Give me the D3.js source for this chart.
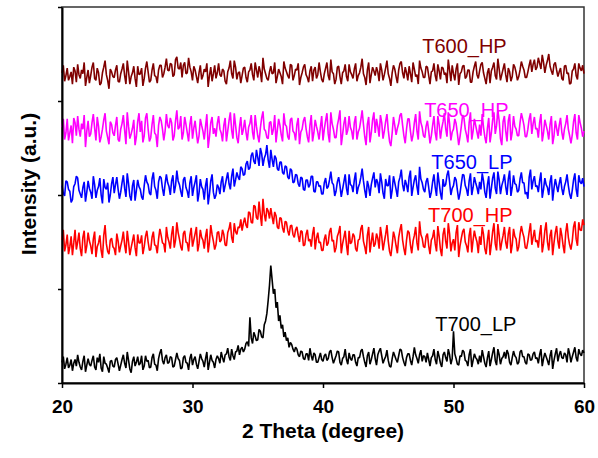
<!DOCTYPE html>
<html>
<head>
<meta charset="utf-8">
<script src="https://cdn.jsdelivr.net/npm/d3@7"></script>
<style>
  body { margin: 0; background: #fff; }
  svg { display: block; font-family: "Liberation Sans", Arial, sans-serif; }
</style>
</head>
<body>
<svg id="xrd" width="598" height="458"></svg>
<script>
// 2 theta grid: 20 to 60 degrees, 0.1 degree step (one row = 2 degrees)
const thetaStart = 20, thetaStep = 0.1;

// intensities (a.u.), stacked as plotted
const t600HP = [
  330,338,321,327,335,322,326,331,318,336,332,320,339,328,324,333,329,341,316,325,
  333,319,327,336,341,324,322,335,330,317,319,330,336,343,328,322,313,334,331,326,
  325,333,338,321,320,329,334,340,327,318,343,331,318,326,330,337,324,315,337,328,
  329,335,316,324,335,342,331,320,322,333,340,327,326,319,333,338,338,325,329,336,
  345,333,332,340,339,326,328,344,347,335,334,341,325,338,341,329,330,346,336,331,
  322,337,333,326,319,330,338,323,327,334,331,340,315,327,336,321,329,338,324,330,
  340,328,326,334,332,321,318,331,335,343,329,324,343,336,323,330,331,319,327,335,
  336,325,320,331,333,340,328,322,341,333,325,337,331,320,346,334,329,324,322,331,
  337,329,330,341,319,326,334,330,326,318,342,335,331,327,324,339,338,322,327,334,
  333,340,317,325,330,336,339,328,325,320,332,337,321,333,336,324,328,341,331,323,
  320,329,335,341,327,322,344,331,329,318,323,336,337,326,318,330,332,339,326,321,
  339,331,328,324,334,340,321,327,330,336,345,329,325,317,333,341,319,328,336,332,
  327,336,331,321,340,333,322,328,335,343,329,324,316,330,338,334,326,319,333,340,
  342,330,324,336,330,322,337,329,320,341,334,326,328,318,343,335,331,325,325,337,
  336,327,318,331,332,340,327,321,339,332,323,336,335,328,330,319,344,333,321,338,
  329,322,334,340,317,329,331,337,338,324,326,333,333,320,320,331,337,342,328,324,
  332,339,341,330,324,318,330,335,319,332,336,341,327,323,345,334,322,328,334,340,
  328,320,335,331,321,326,339,336,330,322,326,333,342,337,333,325,325,331,338,344,
  331,339,344,333,336,346,340,334,349,341,330,338,343,350,337,332,328,339,341,333,
  326,331,335,324,322,337,338,329,330,318,319,332,334,340,327,323,340,335,332,338,
  329
];
const t650HP = [
  272,281,259,266,281,258,266,274,255,282,277,263,284,270,262,276,270,285,251,268,
  279,262,265,277,286,271,258,283,273,256,262,270,280,287,268,261,254,278,275,266,
  263,274,283,259,257,270,276,285,269,254,288,273,260,265,271,280,253,262,278,287,
  267,279,256,263,282,287,270,257,261,275,285,266,264,251,274,283,279,270,258,268,
  286,274,271,282,277,258,263,279,290,270,272,284,259,266,283,275,266,257,275,284,
  260,271,279,266,255,263,281,274,268,259,273,286,250,262,277,283,265,271,262,276,
  284,270,266,257,274,282,257,268,279,288,269,260,287,274,261,255,272,283,264,270,
  280,267,258,272,276,285,267,259,285,273,263,256,271,282,289,270,268,261,260,277,
  278,264,270,285,256,269,281,274,264,257,287,275,273,262,259,280,282,268,266,258,
  275,282,254,267,270,279,283,271,262,256,274,285,257,266,280,273,267,259,272,284,
  258,270,279,287,265,256,288,276,270,261,261,274,281,290,253,264,276,283,264,269,
  284,272,268,259,277,284,259,267,271,280,290,275,262,253,275,283,256,266,280,288,
  266,281,273,262,285,277,260,268,278,286,269,257,252,266,283,274,264,271,276,285,
  287,274,263,255,270,281,281,268,257,264,277,286,268,259,289,277,272,263,261,273,
  279,268,255,263,274,284,266,258,284,275,260,271,278,287,271,262,288,276,258,267,
  270,281,276,265,253,262,273,285,282,270,264,256,277,288,259,268,281,274,267,260,
  275,263,286,272,262,255,271,282,256,266,280,288,265,274,290,279,260,253,278,284,
  268,257,279,286,258,267,284,273,270,263,263,277,287,281,274,262,262,270,281,287,
  265,276,283,270,271,261,277,286,257,266,280,274,268,259,275,284,254,263,279,271,
  263,274,282,267,259,270,276,285,270,263,255,264,278,286,266,259,285,277,271,262,
  268
];
const t650LP = [
  210,202,199,215,214,206,204,192,195,209,212,220,218,205,201,197,208,214,193,203,
  215,207,203,196,220,211,197,205,209,218,200,191,217,208,206,213,192,200,212,219,
  202,211,219,206,196,203,213,221,207,198,223,212,199,194,210,216,194,205,216,209,
  206,198,195,210,221,214,211,202,200,217,224,209,205,196,214,220,218,207,199,212,
  222,213,209,200,215,221,202,210,226,215,211,204,198,216,219,208,204,197,213,220,
  199,208,214,221,193,202,217,209,206,195,210,218,190,201,215,222,203,196,200,211,
  208,201,214,220,203,210,217,224,212,206,220,228,209,216,224,219,216,230,228,221,
  222,233,236,227,229,242,245,236,233,248,240,231,250,244,231,239,243,253,237,229,
  248,238,230,242,239,228,226,235,235,224,222,231,230,219,217,228,226,213,214,222,
  221,212,209,219,218,206,205,216,216,208,211,220,220,204,203,214,214,209,210,201,
  201,213,218,207,209,216,225,213,211,199,204,214,219,210,198,206,214,222,207,200,
  222,211,210,203,216,224,201,208,212,219,228,215,205,197,215,209,199,211,218,224,
  208,217,213,202,223,214,202,196,217,210,210,221,196,205,220,213,206,198,214,219,
  227,211,204,216,211,203,219,226,199,208,216,221,209,200,230,217,213,206,203,214,
  218,208,197,203,214,222,208,199,224,213,202,195,217,209,211,221,226,214,200,207,
  210,219,216,205,195,202,212,222,221,210,206,199,215,223,200,208,219,213,208,201,
  214,206,223,215,203,197,211,220,196,207,218,224,207,201,225,216,201,210,215,222,
  209,200,217,226,199,208,221,212,211,203,205,217,224,213,213,201,203,196,219,227,
  206,215,220,209,210,203,215,224,197,206,218,211,208,200,214,221,194,207,217,210,
  203,212,219,207,200,209,214,222,210,201,196,205,216,223,206,198,221,214,212,218,
  209
];
const t700HP = [
  152,163,140,147,158,137,145,156,136,149,163,142,150,160,143,135,155,162,138,146,
  160,151,146,137,153,161,134,145,149,157,141,133,157,168,148,140,137,152,154,145,
  143,136,159,151,139,146,152,161,147,138,162,150,136,144,151,158,144,135,158,149,
  149,157,137,145,156,162,150,141,142,155,161,147,146,138,153,164,157,149,148,139,
  166,155,150,143,158,167,144,152,171,160,153,145,141,159,162,150,149,140,157,165,
  145,152,159,166,140,148,163,155,152,143,156,164,139,150,168,158,151,142,147,160,
  161,150,152,163,158,147,146,160,164,171,155,149,170,161,158,166,165,174,162,170,
  176,168,165,182,181,171,170,189,188,176,174,193,179,167,196,180,172,186,183,175,
  186,177,169,182,178,166,164,176,175,165,160,172,171,162,157,167,168,158,155,163,
  166,157,150,162,161,146,147,158,163,151,153,145,158,166,142,154,160,149,150,141,
  141,153,158,146,149,161,165,151,152,139,144,156,160,167,138,148,155,162,147,136,
  162,148,150,159,156,143,140,152,153,164,168,151,145,137,157,166,139,150,160,145,
  148,159,154,143,166,156,141,150,158,168,151,140,135,147,161,155,146,138,155,163,
  169,152,143,136,152,162,160,147,138,151,157,166,149,141,172,158,154,145,144,156,
  159,146,137,152,155,163,148,140,167,156,142,135,158,165,151,143,170,159,140,149,
  153,141,160,168,134,146,154,161,164,150,146,139,157,165,139,152,162,155,150,138,
  156,147,166,158,143,137,152,163,136,148,161,170,148,141,169,157,141,150,157,166,
  150,143,159,166,138,147,164,156,153,140,145,158,167,160,155,144,143,151,161,170,
  147,155,163,150,152,144,158,168,139,148,162,171,150,141,157,163,136,149,160,167,
  151,143,165,157,146,138,160,170,155,147,142,151,166,172,153,146,171,163,162,174,
  168
];
const t700LP = [
  22,28,15,20,27,16,19,25,13,21,25,18,30,22,17,14,23,29,12,19,
  26,20,18,24,29,17,14,27,22,31,16,12,28,21,20,16,11,23,24,18,
  17,25,27,20,13,19,25,30,21,16,33,24,15,11,23,28,18,22,28,19,
  21,29,14,18,29,23,24,16,17,27,31,20,19,13,26,32,36,24,20,27,
  30,21,22,28,27,17,18,25,32,26,24,15,16,27,29,22,21,14,26,31,
  19,25,28,20,15,23,31,26,23,17,26,33,14,22,30,24,22,16,25,29,
  26,21,33,27,22,30,31,37,28,24,36,29,25,33,34,40,30,36,38,33,
  36,42,44,39,70,48,42,54,50,45,46,57,55,49,48,62,66,74,88,104,
  125,110,95,100,80,86,66,72,58,62,49,54,45,48,38,43,41,36,33,38,
  36,30,28,34,33,26,25,31,31,24,37,29,24,32,30,22,22,27,32,25,
  23,29,31,24,26,33,35,27,21,25,29,34,33,22,19,26,28,36,25,20,
  32,26,24,30,30,22,18,27,27,34,36,28,22,17,29,33,20,25,31,37,
  26,19,30,34,37,29,21,25,28,35,24,18,17,26,33,29,25,22,29,36,
  35,27,22,18,27,31,31,24,19,28,38,30,26,21,30,35,23,29,28,22,
  32,25,18,27,29,36,25,20,34,28,21,17,30,33,27,23,36,30,20,26,
  55,31,26,20,19,29,28,35,33,24,23,18,30,36,17,24,31,27,25,20,
  29,22,35,28,21,17,27,34,18,25,32,38,24,19,36,30,20,26,28,33,
  26,35,31,22,19,27,34,29,27,20,22,33,35,28,28,22,20,31,30,24,
  25,31,33,26,27,21,30,36,18,26,32,28,24,19,29,35,15,24,31,37,
  23,30,34,27,26,32,30,22,37,31,22,28,33,38,27,23,36,31,29,35,
  32
];

const seriesNames = ["T700_LP", "T700_HP", "T650_LP", "T650_HP", "T600_HP"];
const seriesValues = [t700LP, t700HP, t650LP, t650HP, t600HP];
const seriesColors = ["#000000", "#ff0000", "#0000ff", "#ff00ff", "#800000"];
// label anchor in data units (degree, a.u.)
const labelTheta = [48.6, 48.05, 48.3, 47.75, 47.6];
const labelValue = [55, 171, 228, 283, 351];

const xTicks = [20, 30, 40, 50, 60];
const yTicks = [0, 100, 200, 300, 400];

const svg = d3.select("#xrd");
const margin = { top: 7, right: 14, bottom: 75, left: 62 };
const width = 598 - margin.left - margin.right;
const height = 458 - margin.top - margin.bottom;

const g = svg.append("g")
  .attr("transform", `translate(${margin.left},${margin.top})`);

const x = d3.scaleLinear().domain([20, 60]).range([0, width]);
const y = d3.scaleLinear().domain([0, 400]).range([height, 0]);

// frame
g.append("rect")
  .attr("width", width)
  .attr("height", height)
  .attr("fill", "none")
  .attr("stroke", "#333")
  .attr("stroke-width", 1.5);

const line = d3.line()
  .x((d, i) => x(thetaStart + i * thetaStep))
  .y(d => y(d));

seriesValues.forEach((vals, k) => {
  g.append("path")
    .datum(vals)
    .attr("d", line)
    .attr("fill", "none")
    .attr("stroke", seriesColors[k])
    .attr("stroke-width", 1.6)
    .attr("stroke-linejoin", "bevel");

  g.append("text")
    .attr("x", x(labelTheta[k]))
    .attr("y", y(labelValue[k]))
    .attr("fill", seriesColors[k])
    .attr("font-size", "20px")
    .text(seriesNames[k]);
});

// axes
const xAxis = g.append("g")
  .attr("transform", `translate(0,${height})`)
  .call(d3.axisBottom(x).tickValues(xTicks).tickSize(5).tickPadding(12).tickSizeOuter(0));
xAxis.selectAll("text")
  .attr("font-size", "19px")
  .attr("font-weight", "bold")
  .attr("font-family", "Liberation Sans, Arial, sans-serif")
  .attr("fill", "#000");

const yAxis = g.append("g")
  .call(d3.axisLeft(y).tickValues(yTicks).tickSize(4).tickFormat("").tickSizeOuter(0));

[xAxis, yAxis].forEach(a => {
  a.select(".domain").attr("stroke", "#000").attr("stroke-width", 2);
  a.selectAll(".tick line").attr("stroke", "#000").attr("stroke-width", 1.5);
});

// axis titles
g.append("text")
  .attr("x", width / 2)
  .attr("y", height + 55)
  .attr("text-anchor", "middle")
  .attr("font-size", "21px")
  .attr("font-weight", "bold")
  .text("2 Theta (degree)");

g.append("text")
  .attr("transform", `translate(${-26},${177}) rotate(-90)`)
  .attr("text-anchor", "middle")
  .attr("font-size", "21px")
  .attr("font-weight", "bold")
  .text("Intensity (a.u.)");
</script>
</body>
</html>
